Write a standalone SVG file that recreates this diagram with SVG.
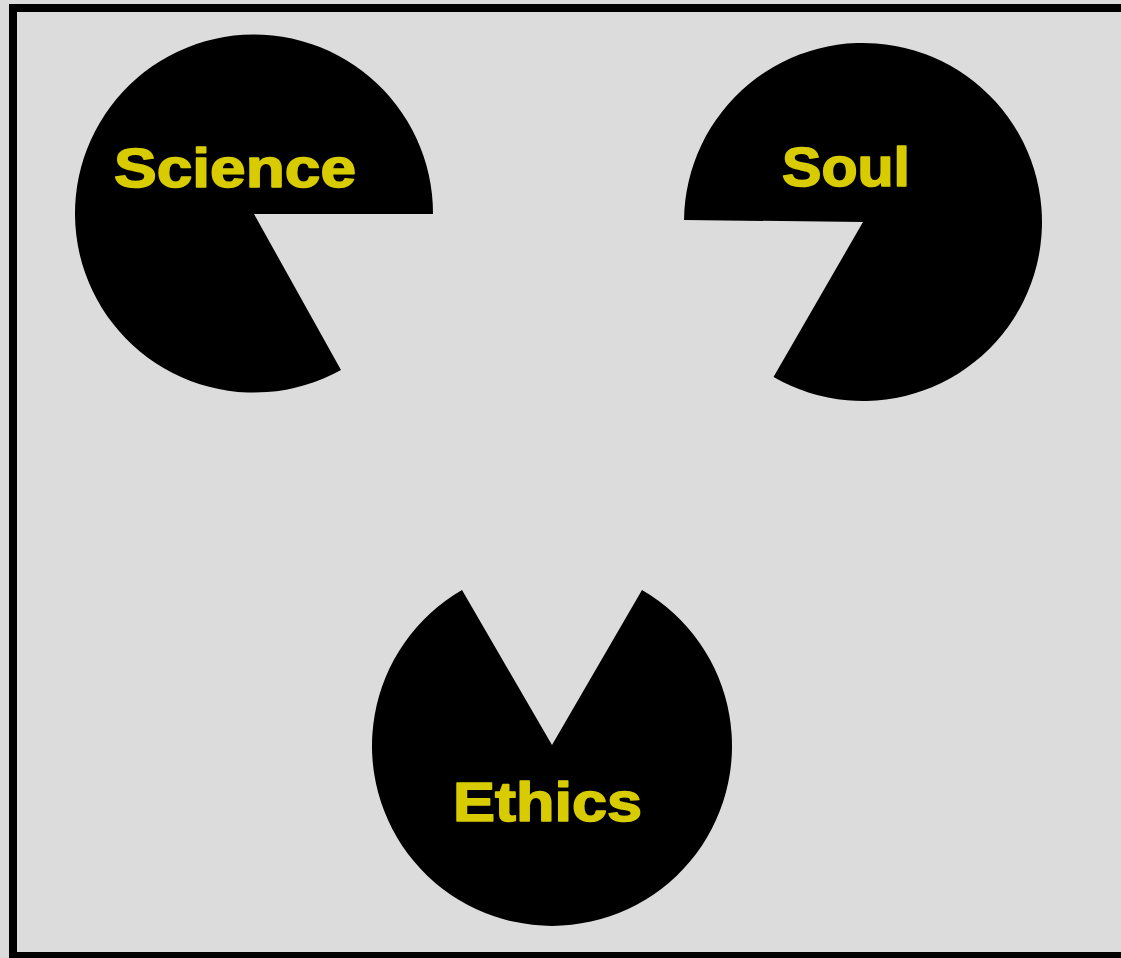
<svg xmlns="http://www.w3.org/2000/svg" width="1121" height="958" viewBox="0 0 1121 958">
<style>
.pac{fill:#000;}
.lbl{font-family:"Liberation Sans",Arial,sans-serif;font-weight:bold;font-size:55px;fill:#d8cc00;stroke:#d8cc00;stroke-width:1.6;stroke-linejoin:round;}
</style>
<rect x="0" y="0" width="1121" height="958" fill="#dbdbdb"/>
<rect x="13" y="8" width="1120" height="948" fill="#dcdcdc" stroke="#000" stroke-width="8"/>
<g id="science">
<path class="pac" d="M254,214 L433,214 A179,179 0 1 0 341,370 Z"/>
<text class="lbl" x="114" y="187" textLength="242" lengthAdjust="spacingAndGlyphs">Science</text>
</g>
<g id="soul">
<path class="pac" d="M863,222 L684,220 A179,179 0 1 1 773.5,377 Z"/>
<text class="lbl" x="782" y="186" textLength="128" lengthAdjust="spacingAndGlyphs">Soul</text>
</g>
<g id="ethics">
<path class="pac" d="M552,745 L642,590 A180,180 0 1 1 462,590 Z"/>
<text class="lbl" x="453" y="821" textLength="189" lengthAdjust="spacingAndGlyphs">Ethics</text>
</g>
<g id="connectors"></g>
</svg>
